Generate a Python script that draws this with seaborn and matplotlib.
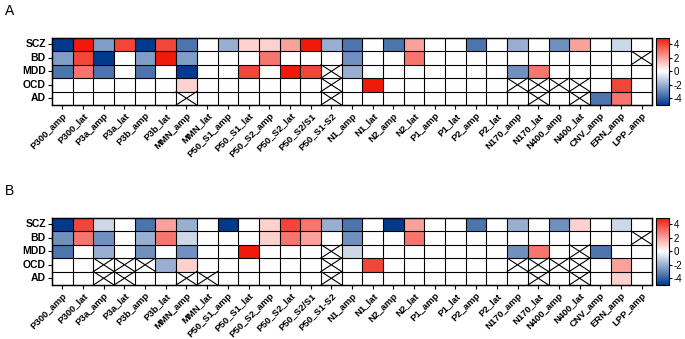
import numpy as np
import pandas as pd
import matplotlib
matplotlib.use("Agg")
import matplotlib.pyplot as plt
import seaborn as sns
from matplotlib.colors import LinearSegmentedColormap

X = np.nan
disorders = ["SCZ", "BD", "MDD", "OCD", "AD"]
measures = ["P300_amp", "P300_lat", "P3a_amp", "P3a_lat", "P3b_amp", "P3b_lat",
            "MMN_amp", "MMN_lat", "P50_S1_amp", "P50_S1_lat", "P50_S2_amp",
            "P50_S2_lat", "P50_S2/S1", "P50_S1-S2", "N1_amp", "N1_lat", "N2_amp",
            "N2_lat", "P1_amp", "P1_lat", "P2_amp", "P2_lat", "N170_amp",
            "N170_lat", "N400_amp", "N400_lat", "CNV_amp", "ERN_amp", "LPP_amp"]

# Panel A
a_scz = [-5, 5, -2.5, 4, -5, 4, -3.5, 0, -2, 1, 1, 2, 5, -2, -3.5, 0, -3.5, 2, 0, 0, -3.5, 0, -2, 0, -2.8, 2, 0, -1, 0]
a_bd = [-2.5, 4, -5, 0, -2.5, 5, -2.5, 0, 0, 0, 3, 0, 0, 0, -2.8, 0, 0, 3, 0, 0, 0, 0, 0, 0, 0, 0, 0, 0, X]
a_mdd = [-3.5, 3, -3.5, 0, -3.5, 0, -5, 0, 0, 4, 0, 5, 4, X, -2, 0, 0, 0, 0, 0, 0, 0, -2.8, 3, 0, 0, 0, 0, 0]
a_ocd = [0, 0, 0, 0, 0, 0, 1, 0, 0, 0, 0, 0, 0, X, 0, 5, 0, 0, 0, 0, 0, 0, X, X, X, X, 0, 4, 0]
a_ad = [0, 0, 0, 0, 0, 0, X, 0, 0, 0, 0, 0, 0, X, 0, 0, 0, 0, 0, 0, 0, 0, 0, X, 0, X, -3.5, 3, 0]

# Panel B
b_scz = [-5, 4, -1, 0, -3.5, 2, -2, 0, -5, 0, 1, 4, 3, -2, -3.5, 0, -5, 2, 0, 0, -3.5, 0, -2, 0, -2.8, 1, 0, -1, 0]
b_bd = [-2.8, 3, -2.8, 0, -2, 3, -1, 0, 0, 0, 1, 3, 2, 0, -2.8, 0, 0, 3, 0, 0, 0, 0, 0, 0, 0, 0, 0, 0, X]
b_mdd = [-3.5, 0, -2, 0, -2.8, 0, -2.8, 0, 0, 5, 0, 0, 0, X, -1, 0, 0, 0, 0, 0, 0, 0, -2.8, 3, 0, X, -3.5, 0, 0]
b_ocd = [0, 0, X, X, X, -2, 1, 0, 0, 0, 0, 0, 0, X, 0, 4, 0, 0, 0, 0, 0, 0, X, X, X, X, 0, 2, 0]
b_ad = [0, 0, X, X, 0, 0, X, X, 0, 0, 0, 0, 0, X, 0, 0, 0, 0, 0, 0, 0, 0, 0, X, 0, X, 0, 1, 0]

cbar_ticks = [4, 2, 0, -2, -4]

panels = [
    ("A", pd.DataFrame([a_scz, a_bd, a_mdd, a_ocd, a_ad], index=disorders, columns=measures)),
    ("B", pd.DataFrame([b_scz, b_bd, b_mdd, b_ocd, b_ad], index=disorders, columns=measures)),
]

cmap = LinearSegmentedColormap.from_list("bwr2", ["#003a8c", "#ffffff", "#f0190a"])

plt.rcParams["font.family"] = ["Liberation Sans", "DejaVu Sans"]
plt.rcParams["axes.unicode_minus"] = False
fig = plt.figure(figsize=(6.85, 3.39), dpi=100)

W, H = 685.0, 339.0
left, right = 52, 652
for (label, df), top in zip(panels, [37.7, 217.7]):
    bottom = top + 67.3
    ax = fig.add_axes([left / W, 1 - bottom / H, (right - left) / W, (bottom - top) / H])
    cax = fig.add_axes([656 / W, 1 - bottom / H, 13 / W, (bottom - top) / H])
    sns.heatmap(df, ax=ax, cmap=cmap, vmin=-5, vmax=5, cbar_ax=cax,
                cbar_kws={"ticks": cbar_ticks})
    nr, nc = df.shape
    for i in range(nr + 1):
        ax.plot([0, nc], [i, i], color="black", lw=0.8, solid_capstyle="butt", clip_on=False)
    for j in range(nc + 1):
        ax.plot([j, j], [0, nr], color="black", lw=0.8, solid_capstyle="butt", clip_on=False)
    vals = df.values
    for i in range(nr):
        for j in range(nc):
            if np.isnan(vals[i, j]):
                ax.plot([j, j + 1], [i, i + 1], color="black", lw=0.8)
                ax.plot([j, j + 1], [i + 1, i], color="black", lw=0.8)
    ax.set_xlim(0, nc)
    ax.set_ylim(nr, 0)
    ax.set_xticks(np.arange(nc) + 0.5)
    ax.set_xticklabels(measures, rotation=45, ha="right", rotation_mode="anchor",
                       fontsize=6.8, fontweight="bold")
    ax.set_yticks(np.arange(nr) + 0.5)
    ax.set_yticklabels(disorders, rotation=0, fontsize=7.5, fontweight="bold")
    ax.tick_params(axis="both", length=3, width=0.8, color="black", pad=1.5)
    ax.set_xlabel("")
    ax.set_ylabel("")
    for s in ax.spines.values():
        s.set_visible(True)
        s.set_linewidth(1.0)
    cb = ax.collections[0].colorbar
    cb.outline.set_visible(True)
    cb.outline.set_linewidth(0.8)
    cb.outline.set_edgecolor("black")
    cax.tick_params(labelsize=7, length=2.5, width=0.8, pad=1)
    fig.text(5 / W, 1 - (top - 34) / H, label, fontsize=10, va="top", ha="left")

fig.savefig("out.png", dpi=100)
